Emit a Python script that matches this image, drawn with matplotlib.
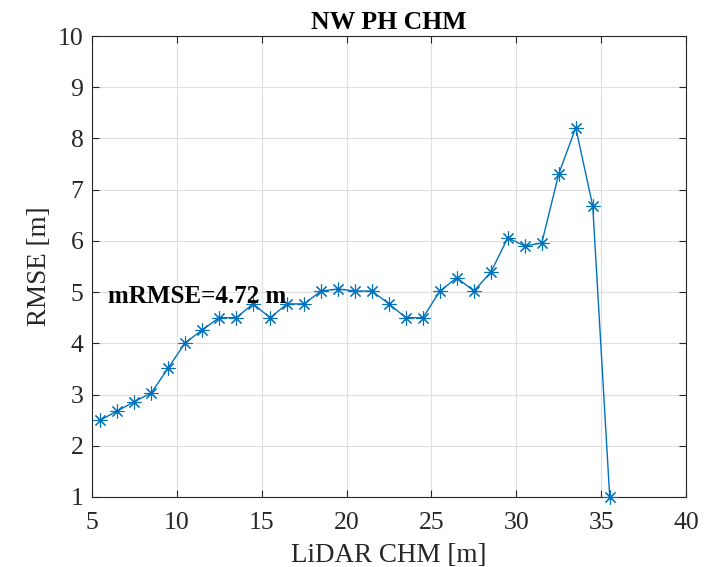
import numpy as np
import matplotlib.pyplot as plt

plt.rcParams['font.family'] = ['Liberation Serif', 'DejaVu Serif']

# LiDAR CHM height bins (m) and RMSE per bin
chm = [5.5, 6.5, 7.5, 8.5, 9.5, 10.5, 11.5, 12.5, 13.5, 14.5, 15.5,
       16.5, 17.5, 18.5, 19.5, 20.5, 21.5, 22.5, 23.5, 24.5, 25.5,
       26.5, 27.5, 28.5, 29.5, 30.5, 31.5, 32.5, 33.5, 34.5, 35.5]
rmse = [2.50, 2.68, 2.86, 3.03, 3.52, 4.01, 4.26, 4.50, 4.50, 4.77, 4.50,
        4.77, 4.77, 5.02, 5.06, 5.02, 5.02, 4.77, 4.50, 4.50, 5.02,
        5.28, 5.02, 5.39, 6.06, 5.90, 5.96, 7.31, 8.21, 6.68, 1.00]
mrmse = 4.72

fig = plt.figure(figsize=(7.23, 5.67), dpi=100)
ax = fig.add_axes([0.127, 0.1235, 0.822, 0.813])

# matlab style asterisk marker
ax.plot(chm, rmse, color='#0072BD', lw=1.0, marker=(8, 2, 0), ms=10,
        markeredgewidth=0.8, clip_on=False, zorder=3)

ax.set_xlim(5, 40)
ax.set_ylim(1, 10)
ax.set_xticks(np.arange(5, 41, 5))
ax.set_yticks(np.arange(1, 11, 1))
ax.grid(True, color='#dfdfdf', lw=0.8)
ax.set_axisbelow(True)

for s in ax.spines.values():
    s.set_color('#262626')
    s.set_linewidth(0.8)
ax.tick_params(direction='in', top=True, right=True, length=5,
               width=0.8, colors='#262626', labelsize=18.5)
ax.tick_params(axis='x', pad=11)
ax.tick_params(axis='y', pad=6)
for lab in ax.get_xticklabels() + ax.get_yticklabels():
    lab.set_color('#262626')

ax.set_xlabel('LiDAR CHM [m]', fontsize=19.5, color='#262626', labelpad=6)
ax.set_ylabel('RMSE [m]', fontsize=19.5, color='#262626', labelpad=4)
ax.set_title('NW PH CHM', fontsize=18.5, fontweight='bold', pad=5)

ax.text(5.95, 4.92, 'mRMSE=%.2f m' % mrmse, fontsize=18,
        fontweight='bold', va='center', ha='left')

fig.savefig('out.png', dpi=100)
